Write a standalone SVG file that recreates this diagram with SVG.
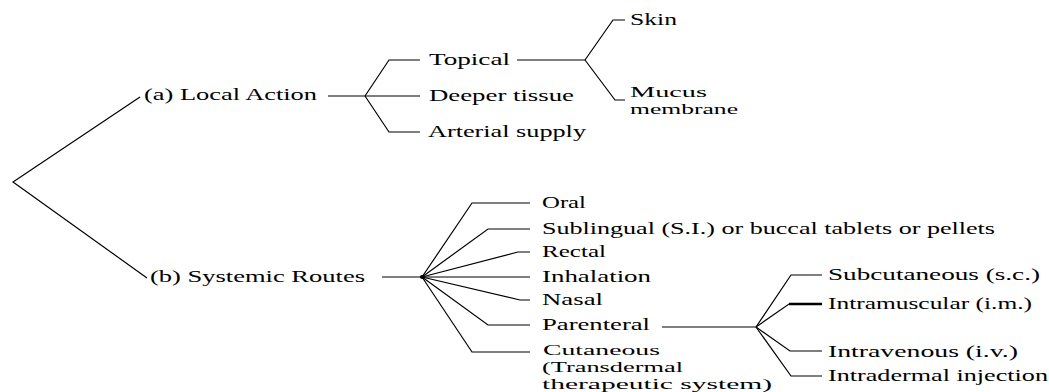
<svg xmlns="http://www.w3.org/2000/svg" width="1049" height="392" viewBox="0 0 1049 392">
<style>
text{font-family:"Liberation Serif","Times New Roman",serif;font-size:17px;fill:#000}
text.m{font-size:14.5px}
.c{fill:none;stroke:#000;stroke-width:1.2}
.thick{stroke-width:2.6}
</style>
<rect width="1049" height="392" fill="#fff"/>
<g id="connectors">
<polyline class="c" points="140,97 13,182 147,278"/>
<line class="c" x1="328" y1="96" x2="365" y2="96"/>
<polyline class="c" points="365,96 389,60 420,60"/>
<line class="c" x1="365" y1="96" x2="420" y2="96"/>
<polyline class="c" points="365,96 389,132 420,132"/>
<line class="c" x1="517" y1="60" x2="585" y2="60"/>
<polyline class="c" points="585,60 613,20 625,20"/>
<polyline class="c" points="585,60 615,100 625,100"/>
<line class="c" x1="382" y1="277" x2="422" y2="277"/>
<polyline class="c" points="422,277 472,203 530,203"/>
<polyline class="c" points="422,277 488,229 530,229"/>
<polyline class="c" points="422,277 518,252 530,252"/>
<line class="c" x1="422" y1="277" x2="530" y2="277"/>
<polyline class="c" points="422,277 520,300 530,300"/>
<polyline class="c" points="422,277 488,325 530,325"/>
<polyline class="c" points="422,277 472,352 530,352"/>
<circle cx="422" cy="277" r="2" fill="#000"/>
<line class="c" x1="662" y1="327" x2="756" y2="327"/>
<polyline class="c" points="756,327 791,275 822,275"/>
<polyline class="c" points="756,327 789,304 799,304"/>
<line class="c thick" x1="789" y1="304" x2="822" y2="304"/>
<polyline class="c" points="756,327 790,351 822,351"/>
<polyline class="c" points="756,327 791,376 822,376"/>
</g>
<g id="local-action"><text x="144" y="100" textLength="173" lengthAdjust="spacingAndGlyphs">(a) Local Action</text></g>
<g id="topical"><text x="429" y="65" textLength="81" lengthAdjust="spacingAndGlyphs">Topical</text></g>
<g id="deeper-tissue"><text x="429" y="101" textLength="145" lengthAdjust="spacingAndGlyphs">Deeper tissue</text></g>
<g id="arterial-supply"><text x="428" y="137" textLength="158" lengthAdjust="spacingAndGlyphs">Arterial supply</text></g>
<g id="skin"><text x="630" y="25" textLength="47" lengthAdjust="spacingAndGlyphs">Skin</text></g>
<g id="mucus-membrane"><text class="m" x="630" y="97" textLength="77" lengthAdjust="spacingAndGlyphs">Mucus</text><text class="m" x="630" y="114" textLength="108" lengthAdjust="spacingAndGlyphs">membrane</text></g>
<g id="systemic-routes"><text x="150" y="282" textLength="215" lengthAdjust="spacingAndGlyphs">(b) Systemic Routes</text></g>
<g id="oral"><text x="542" y="208" textLength="44" lengthAdjust="spacingAndGlyphs">Oral</text></g>
<g id="sublingual"><text x="542" y="234" textLength="453" lengthAdjust="spacingAndGlyphs">Sublingual (S.I.) or buccal tablets or pellets</text></g>
<g id="rectal"><text x="542" y="257" textLength="64" lengthAdjust="spacingAndGlyphs">Rectal</text></g>
<g id="inhalation"><text x="542" y="282" textLength="109" lengthAdjust="spacingAndGlyphs">Inhalation</text></g>
<g id="nasal"><text x="542" y="305" textLength="61" lengthAdjust="spacingAndGlyphs">Nasal</text></g>
<g id="parenteral"><text x="542" y="330" textLength="108" lengthAdjust="spacingAndGlyphs">Parenteral</text></g>
<g id="cutaneous"><text class="m" x="543" y="355" textLength="117" lengthAdjust="spacingAndGlyphs">Cutaneous</text><text class="m" x="542" y="372" textLength="141" lengthAdjust="spacingAndGlyphs">(Transdermal</text><text class="m" x="542" y="389" textLength="230" lengthAdjust="spacingAndGlyphs">therapeutic system)</text></g>
<g id="subcutaneous"><text x="828" y="280" textLength="212" lengthAdjust="spacingAndGlyphs">Subcutaneous (s.c.)</text></g>
<g id="intramuscular"><text x="828" y="309" textLength="204" lengthAdjust="spacingAndGlyphs">Intramuscular (i.m.)</text></g>
<g id="intravenous"><text x="828" y="357" textLength="190" lengthAdjust="spacingAndGlyphs">Intravenous (i.v.)</text></g>
<g id="intradermal"><text x="828" y="381" textLength="220" lengthAdjust="spacingAndGlyphs">Intradermal injection</text></g>
</svg>
